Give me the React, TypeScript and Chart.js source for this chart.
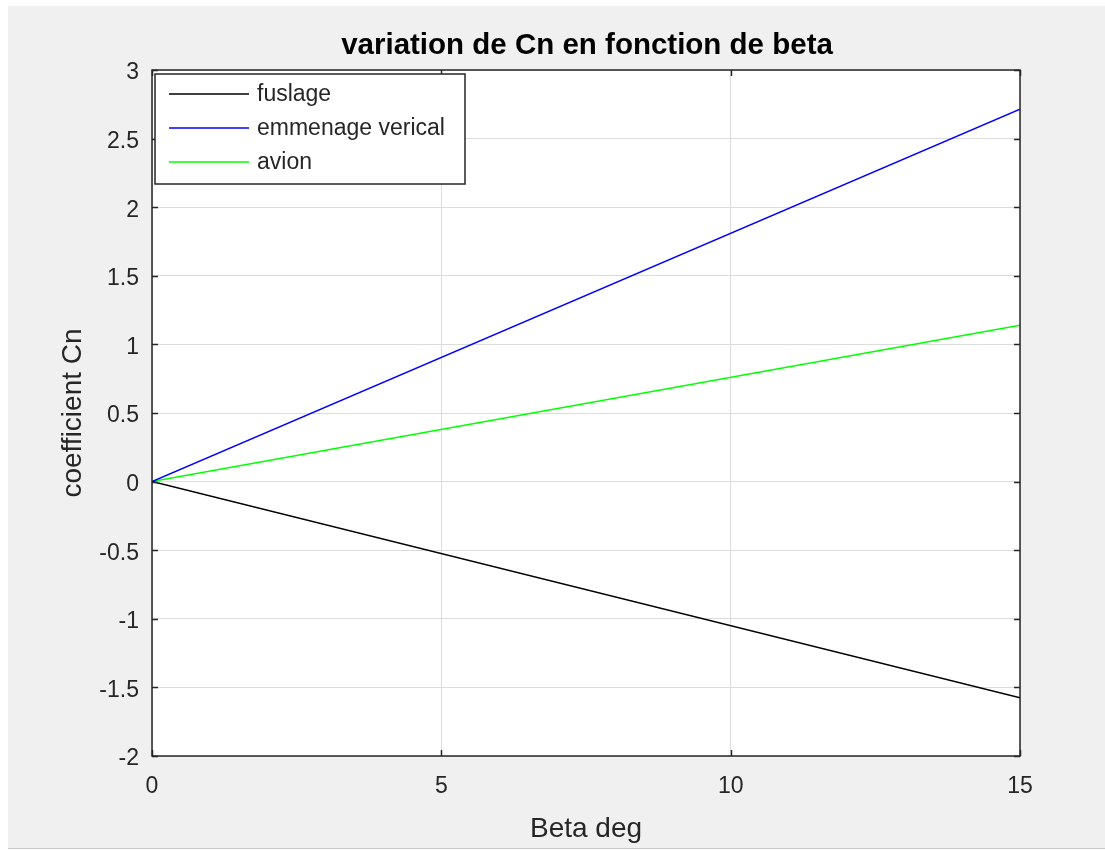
import React, { useEffect, useRef } from "react";
import { Chart, registerables } from "chart.js";

Chart.register(...registerables);

const titleText = "variation de Cn en fonction de beta";
const xLabel = "Beta deg";
const yLabel = "coefficient Cn";

const beta = [0, 15];
const fuselage = [0, -1.575];
const empennage = [0, 2.714];
const avion = [0, 1.14];

const seriesNames = ["fuslage", "emmenage verical", "avion"];
const seriesColors = ["#000000", "#0000ff", "#00ff00"];

const xMin = 0;
const xMax = 15;
const xStep = 5;
const yMin = -2;
const yMax = 3;
const yStep = 0.5;

const FONT = "'Liberation Sans', Arial, Helvetica, sans-serif";
const TEXT = "#262626";

const bgPlugin = {
  id: "bgPlugin",
  beforeDraw(chart: any) {
    const { ctx, width, height, chartArea } = chart;
    ctx.save();
    ctx.fillStyle = "#ffffff";
    ctx.fillRect(0, 0, width, height);
    ctx.fillStyle = "#f0f0f0";
    ctx.fillRect(8, 6, width - 8, 842);
    ctx.fillStyle = "#c8c8c8";
    ctx.fillRect(8, 848, width - 8, 1);
    ctx.fillStyle = "#ffffff";
    ctx.fillRect(chartArea.left, chartArea.top, chartArea.right - chartArea.left, chartArea.bottom - chartArea.top);
    ctx.restore();
  },
};

const framePlugin = {
  id: "framePlugin",
  afterDatasetsDraw(chart: any) {
    const { ctx, chartArea } = chart;
    const { left, right, top, bottom } = chartArea;
    const xs = chart.scales.x;
    const ys = chart.scales.y;
    ctx.save();
    ctx.strokeStyle = TEXT;
    ctx.lineWidth = 1.5;
    const tl = 6;
    ctx.beginPath();
    xs.ticks.forEach((t: any) => {
      const px = Math.round(xs.getPixelForValue(t.value)) + 0.5;
      ctx.moveTo(px, bottom);
      ctx.lineTo(px, bottom - tl);
      ctx.moveTo(px, top);
      ctx.lineTo(px, top + tl);
    });
    ys.ticks.forEach((t: any) => {
      const py = Math.round(ys.getPixelForValue(t.value)) + 0.5;
      ctx.moveTo(left, py);
      ctx.lineTo(left + tl, py);
      ctx.moveTo(right, py);
      ctx.lineTo(right - tl, py);
    });
    ctx.stroke();
    ctx.strokeRect(left, top, right - left, bottom - top);

    // axis titles
    ctx.fillStyle = TEXT;
    ctx.font = `28px ${FONT}`;
    ctx.textAlign = "center";
    ctx.textBaseline = "alphabetic";
    ctx.fillText(xLabel, (left + right) / 2, 837);
    ctx.save();
    ctx.translate(81, (top + bottom) / 2);
    ctx.rotate(-Math.PI / 2);
    ctx.fillText(yLabel, 0, 0);
    ctx.restore();

    // title
    ctx.font = `bold 29.5px ${FONT}`;
    ctx.fillStyle = "#000000";
    ctx.fillText(titleText, (left + right) / 2 + 1, 54);
    ctx.restore();
  },
  afterDraw(chart: any) {
    const { ctx } = chart;
    ctx.save();
    const bx = 155, by = 74, bw = 310, bh = 110;
    ctx.fillStyle = "#ffffff";
    ctx.fillRect(bx, by, bw, bh);
    ctx.strokeStyle = TEXT;
    ctx.lineWidth = 1.5;
    ctx.strokeRect(bx, by, bw, bh);
    ctx.font = `23px ${FONT}`;
    ctx.textAlign = "left";
    ctx.textBaseline = "middle";
    chart.data.datasets.forEach((ds: any, i: number) => {
      const y = 94 + i * 34;
      ctx.strokeStyle = ds.borderColor;
      ctx.lineWidth = 1.5;
      ctx.beginPath();
      ctx.moveTo(169, y);
      ctx.lineTo(249, y);
      ctx.stroke();
      ctx.fillStyle = TEXT;
      ctx.fillText(ds.label, 257, y + 1);
    });
    ctx.restore();
  },
};

export default function App() {
  const ref = useRef<HTMLCanvasElement | null>(null);
  useEffect(() => {
    if (!ref.current) return;
    const series = [fuselage, empennage, avion];
    const chart = new Chart(ref.current, {
      type: "line",
      data: {
        datasets: series.map((vals, i) => ({
          label: seriesNames[i],
          data: beta.map((b, j) => ({ x: b, y: vals[j] })),
          borderColor: seriesColors[i],
          backgroundColor: seriesColors[i],
          borderWidth: 1.5,
          pointRadius: 0,
          tension: 0,
          fill: false,
        })),
      },
      options: {
        animation: false,
        responsive: false,
        maintainAspectRatio: false,
        layout: { padding: { left: 0, top: 70, right: 85, bottom: 0 } },
        plugins: {
          legend: { display: false },
          title: { display: false },
          tooltip: { enabled: false },
        },
        scales: {
          x: {
            type: "linear",
            min: xMin,
            max: xMax,
            afterFit: (s: any) => { s.height = 94; },
            border: { display: false },
            grid: { color: "#dcdcdc", lineWidth: 1, drawTicks: false },
            ticks: {
              stepSize: xStep,
              padding: 17,
              color: TEXT,
              font: { family: FONT, size: 23 },
              maxRotation: 0,
              callback: (v: any) => String(v),
            },
          },
          y: {
            type: "linear",
            min: yMin,
            max: yMax,
            afterFit: (s: any) => { s.width = 152; },
            border: { display: false },
            grid: { color: "#dcdcdc", lineWidth: 1, drawTicks: false },
            ticks: {
              stepSize: yStep,
              padding: 13,
              labelOffset: 3,
              color: TEXT,
              font: { family: FONT, size: 23 },
              callback: (v: any) => String(v),
            },
          },
        },
      },
      plugins: [bgPlugin, framePlugin],
    });
    return () => chart.destroy();
  }, []);
  return (
    <div style={{ position: "absolute", left: 0, top: 0, width: 1105, height: 850 }}>
      <canvas ref={ref} width={1105} height={850} style={{ width: 1105, height: 850, display: "block" }} />
    </div>
  );
}
